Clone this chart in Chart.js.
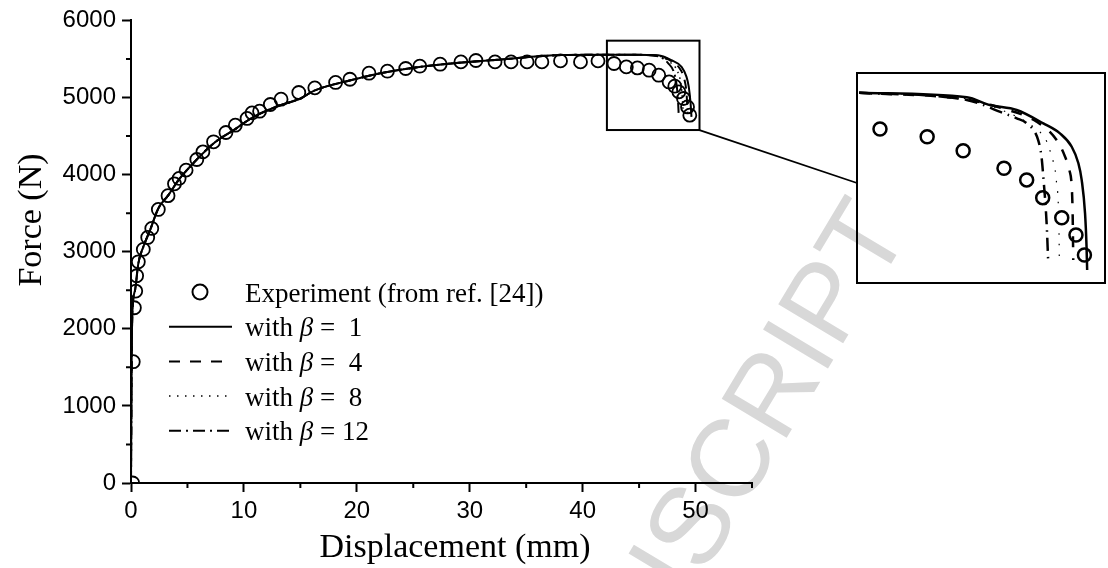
<!DOCTYPE html>
<html><head><meta charset="utf-8">
<script src="https://cdn.jsdelivr.net/npm/chart.js@4.4.1/dist/chart.umd.min.js"></script>
<style>
html,body{margin:0;padding:0;background:#fff;}
#wrap{position:relative;width:1108px;height:568px;overflow:hidden;}
#main{position:absolute;left:0;top:0;}
#inset{position:absolute;left:856px;top:72px;}
</style></head><body>
<div id="wrap">
<canvas id="main" width="1108" height="568"></canvas>
<canvas id="inset" width="250" height="212"></canvas>
</div>
<script>
// ---------- data ----------
const xTitle = 'Displacement (mm)';
const yTitle = 'Force (N)';
const xTicks = [0, 10, 20, 30, 40, 50];
const xMinor = [5, 15, 25, 35, 45, 55];
const yTicks = [0, 1000, 2000, 3000, 4000, 5000, 6000];
const yMinor = [500, 1500, 2500, 3500, 4500, 5500];
const xRange = [0, 55];
const yRange = [0, 6000];

const seriesLabels = ['Experiment (from ref. [24])', 'with \u03b2 =  1', 'with \u03b2 =  4', 'with \u03b2 =  8', 'with \u03b2 = 12'];

const expX = [0.15,0.2,0.3,0.42,0.5,0.65,1.09,1.48,1.84,2.42,3.28,3.85,4.26,4.88,5.83,6.37,7.31,8.41,9.24,10.28,10.72,11.39,12.34,13.29,14.86,16.28,18.12,19.39,21.08,22.71,24.33,25.58,27.38,29.22,30.55,32.24,33.66,35.08,36.39,38.04,39.81,41.36,42.78,43.87,44.85,45.89,46.74,47.66,48.16,48.52,48.93,49.29,49.49];
const expY = [0,1573,2273,2489,2688,2869,3030,3185,3302,3548,3727,3880,3950,4058,4196,4295,4425,4546,4641,4728,4800,4822,4909,4978,5065,5125,5195,5237,5315,5341,5376,5406,5432,5462,5480,5462,5462,5462,5462,5475,5462,5475,5441,5397,5384,5354,5289,5202,5147,5073,4987,4878,4771];

// common part of the simulated curves
const simX = [0,0.06,0.12,0.36,0.65,1.09,1.69,2.42,3.31,4.2,4.95,7.31,9.09,10.86,13.23,15.01,16.19,19.45,22.71,26.85,32.77,38.1,41.65,44.5];
const simY = [0,1600,2204,2502,2848,3063,3280,3561,3733,3928,4058,4404,4576,4749,4900,4987,5086,5224,5332,5419,5493,5550,5555,5555];
// tails
const b1TailX = [46.69,47.87,48.76,49.2,49.4,49.56,49.64];
const b1TailY = [5548,5483,5397,5267,5137,4926,4748];
const b4TailX = [46.69,47.87,48.6,49.0,49.2,49.3];
const b4TailY = [5545,5470,5375,5240,5060,4800];
const b8TailX = [46.69,47.8,48.4,48.7,48.85,48.9];
const b8TailY = [5540,5450,5340,5180,4950,4800];
const b12TailX = [46.69,47.6,48.1,48.35,48.45,48.5];
const b12TailY = [5535,5440,5320,5130,4950,4800];

// zoomed region (box in main plot / inset axes)
const zoomX = [42.15, 50.35];
const zoomY = [4578, 5737];

// inset readings
const inExpX = [42.91,44.47,45.66,47.01,47.76,48.29,48.92,49.39,49.67];
const inExpY = [5428,5385,5308,5211,5147,5049,4938,4843,4733];
const inB1X = [42.22,45.78,46.55,47.43,48.31,48.86,49.25,49.47,49.58,49.69,49.74,49.76];
const inB1Y = [5628,5603,5560,5533,5459,5404,5330,5239,5146,4963,4778,4650];
const inB4X = [42.22,45.78,47.0,48.09,48.75,49.03,49.17,49.25,49.28,49.3];
const inB4Y = [5628,5590,5540,5468,5367,5275,5202,5109,4963,4705];
const inB8X = [42.22,45.78,47.0,47.98,48.42,48.59,48.7,48.75,48.8,48.83,48.84];
const inB8Y = [5628,5594,5528,5440,5360,5275,5202,5128,5036,4854,4696];
const inB12X = [42.22,45.78,47.0,47.43,47.76,48.14,48.25,48.31,48.42,48.47];
const inB12Y = [5628,5588,5515,5487,5459,5367,5275,5165,4907,4705];

// ---------- helpers ----------
const pts = (xs, ys) => xs.map((x, i) => ({x, y: ys[i]}));
const SERIF = '"Liberation Serif", "Times New Roman", serif';
const SANS = '"Liberation Sans", Arial, sans-serif';
Chart.defaults.font.family = SANS;
Chart.defaults.color = '#000';

const styles = [
  {dash: [], width: 2, legDash: []},
  {dash: [9, 7], width: 2, legDash: [11, 10]},
  {dash: [1.5, 4.5], width: 1.5, legDash: [1.5, 6.5]},
  {dash: [12, 4, 2, 4], width: 2, legDash: [12, 5, 2, 5]}
];

function lineDs(label, data, st, row, w) {
  return {label, data, showLine: true, borderColor: '#000', backgroundColor: 'transparent',
    borderWidth: w || st.width, borderDash: st.dash, pointRadius: 0, fill: false,
    cubicInterpolationMode: 'monotone', legendRow: row, legDash: st.legDash};
}
function expDs(label, data, r, bw, row) {
  return {label, data, showLine: false, borderColor: '#000', backgroundColor: 'transparent',
    pointStyle: 'circle', pointRadius: r, pointBorderWidth: bw, pointBorderColor: '#000',
    pointBackgroundColor: 'transparent', legendRow: row, isPoints: true};
}

// ---------- plugins ----------
const LEG = {markX: 200, x0: 169, x1: 232, textX: 245, y0: 292, dy: 34.7, size: 27};
const WM = {text: 'ACCEPTED MANUSCRIPT', x: 885, y: 215, angle: -59, size: 110};
const INSET_EDGE = {x: 857, y: 183};

const decor = {
  id: 'decor',
  beforeDraw(chart) {
    const ctx = chart.ctx;
    ctx.save();
    ctx.fillStyle = '#fff';
    ctx.fillRect(0, 0, chart.width, chart.height);
    ctx.translate(WM.x, WM.y);
    ctx.rotate(WM.angle * Math.PI / 180);
    ctx.font = WM.size + 'px ' + SANS;
    ctx.fillStyle = '#d8d8d8';
    ctx.textAlign = 'right';
    ctx.textBaseline = 'middle';
    ctx.fillText(WM.text, 0, 0);
    ctx.restore();
  },
  afterDraw(chart) {
    const ctx = chart.ctx, xs = chart.scales.x, ys = chart.scales.y;
    ctx.save();
    ctx.strokeStyle = '#000';
    ctx.lineWidth = 2;
    // minor ticks
    ctx.beginPath();
    xMinor.forEach(v => { const p = xs.getPixelForValue(v); ctx.moveTo(p, xs.top); ctx.lineTo(p, xs.top + 5); });
    yMinor.forEach(v => { const p = ys.getPixelForValue(v); ctx.moveTo(ys.right - 5, p); ctx.lineTo(ys.right, p); });
    ctx.stroke();
    // zoom box + connector
    const bx0 = xs.getPixelForValue(zoomX[0]), bx1 = xs.getPixelForValue(zoomX[1]);
    const by0 = ys.getPixelForValue(zoomY[1]), by1 = ys.getPixelForValue(zoomY[0]);
    ctx.strokeRect(bx0, by0, bx1 - bx0, by1 - by0);
    ctx.lineWidth = 1.8;
    ctx.beginPath(); ctx.moveTo(bx1, by1); ctx.lineTo(INSET_EDGE.x, INSET_EDGE.y); ctx.stroke();
    // axis titles
    ctx.fillStyle = '#000';
    ctx.font = '34px ' + SERIF;
    ctx.textAlign = 'center';
    ctx.textBaseline = 'alphabetic';
    ctx.fillText(xTitle, 455, 557);
    ctx.save();
    ctx.translate(41, 220);
    ctx.rotate(-Math.PI / 2);
    ctx.fillText(yTitle, 0, 0);
    ctx.restore();
    // legend
    const f = LEG.size + 'px ' + SERIF;
    ctx.font = f;
    ctx.textAlign = 'left';
    chart.data.datasets.forEach(ds => {
      if (ds.legendRow === undefined) return;
      const y = LEG.y0 + ds.legendRow * LEG.dy;
      ctx.setLineDash([]);
      if (ds.isPoints) {
        ctx.lineWidth = 2;
        ctx.beginPath(); ctx.arc(LEG.markX, y, 7.5, 0, Math.PI * 2); ctx.stroke();
      } else {
        ctx.lineWidth = ds.borderWidth;
        ctx.setLineDash(ds.legDash);
        ctx.beginPath(); ctx.moveTo(LEG.x0, y); ctx.lineTo(LEG.x1, y); ctx.stroke();
        ctx.setLineDash([]);
      }
      const parts = ds.label.split('\u03b2');
      let x = LEG.textX;
      const by = y + 9.5;
      parts.forEach((p, i) => {
        if (i > 0) {
          ctx.font = 'italic ' + f;
          ctx.fillText('\u03b2', x, by);
          x += ctx.measureText('\u03b2').width;
          ctx.font = f;
        }
        ctx.fillText(p, x, by);
        x += ctx.measureText(p).width;
      });
    });
    ctx.restore();
  }
};

const frame = {
  id: 'frame',
  afterDraw(chart) {
    const a = chart.chartArea, ctx = chart.ctx;
    ctx.save(); ctx.strokeStyle = '#000'; ctx.lineWidth = 2;
    ctx.strokeRect(a.left, a.top, a.right - a.left, a.bottom - a.top);
    ctx.restore();
  }
};

// ---------- main chart ----------
const mainDatasets = [
  expDs(seriesLabels[0], pts(expX, expY), 6.5, 1.8, 0),
  lineDs(seriesLabels[1], pts(simX.concat(b1TailX), simY.concat(b1TailY)), styles[0], 1),
  lineDs(seriesLabels[2], pts(simX.concat(b4TailX), simY.concat(b4TailY)), styles[1], 2),
  lineDs(seriesLabels[3], pts(simX.concat(b8TailX), simY.concat(b8TailY)), styles[2], 3),
  lineDs(seriesLabels[4], pts(simX.concat(b12TailX), simY.concat(b12TailY)), styles[3], 4)
];

function axisOpts(min, max, ticks, isX) {
  return {
    type: 'linear', min, max,
    border: {display: true, color: '#000', width: 2},
    grid: {display: true, drawOnChartArea: false, drawTicks: true, tickLength: 9, tickWidth: 2, tickColor: '#000'},
    ticks: {color: '#000', font: {family: SANS, size: 24}, padding: isX ? 5 : 6, maxRotation: 0, autoSkip: false,
      callback: v => String(v)},
    afterBuildTicks: s => { s.ticks = ticks.map(v => ({value: v})); },
    afterFit: s => { if (isX) s.height = 85; else s.width = 131; }
  };
}

new Chart(document.getElementById('main'), {
  type: 'line',
  data: {datasets: mainDatasets},
  options: {
    responsive: false, animation: false,
    layout: {padding: {left: 0, top: 20, right: 356, bottom: 0}, autoPadding: false},
    plugins: {legend: {display: false}, tooltip: {enabled: false}},
    scales: {
      x: axisOpts(xRange[0], xRange[1], xTicks, true),
      y: axisOpts(yRange[0], yRange[1], yTicks, false)
    }
  },
  plugins: [decor]
});

// ---------- inset chart ----------
new Chart(document.getElementById('inset'), {
  type: 'line',
  data: {datasets: [
    expDs(seriesLabels[0], pts(inExpX, inExpY), 6.5, 2.5),
    lineDs(seriesLabels[1], pts(inB1X, inB1Y), {dash: [], width: 2.5}),
    lineDs(seriesLabels[2], pts(inB4X, inB4Y), {dash: [11, 11], width: 2.5}),
    lineDs(seriesLabels[3], pts(inB8X, inB8Y), {dash: [1.5, 9], width: 1.2}),
    lineDs(seriesLabels[4], pts(inB12X, inB12Y), {dash: [13, 6, 1.5, 6], width: 2.5})
  ]},
  options: {
    responsive: false, animation: false,
    layout: {padding: 1, autoPadding: false},
    plugins: {legend: {display: false}, tooltip: {enabled: false}},
    scales: {
      x: {type: 'linear', display: false, min: zoomX[0], max: zoomX[1]},
      y: {type: 'linear', display: false, min: zoomY[0], max: zoomY[1]}
    }
  },
  plugins: [frame]
});
</script>
</body></html>
